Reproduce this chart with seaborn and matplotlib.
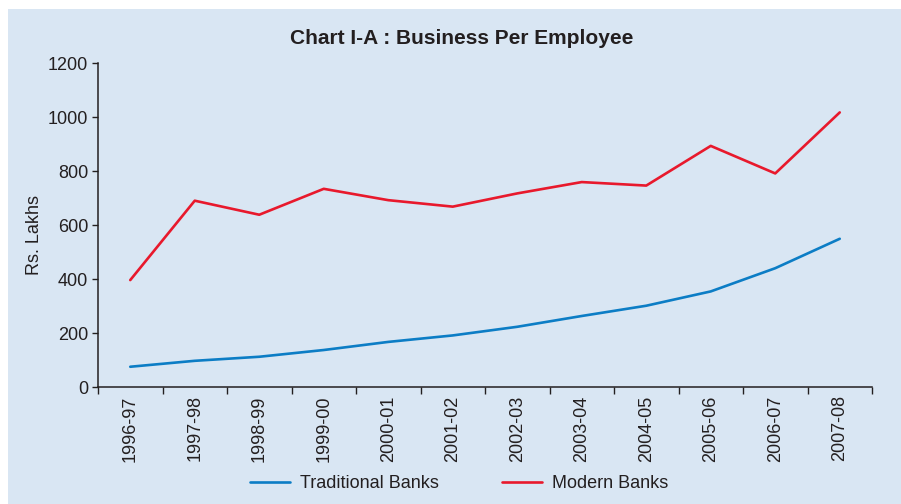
import matplotlib
matplotlib.use("Agg")
import matplotlib.pyplot as plt
from matplotlib.patches import Rectangle
from matplotlib.ticker import FixedLocator, NullFormatter
import seaborn as sns
import pandas as pd

years = ["1996-97", "1997-98", "1998-99", "1999-00", "2000-01", "2001-02",
         "2002-03", "2003-04", "2004-05", "2005-06", "2006-07", "2007-08"]
traditional = [75, 97, 112, 137, 167, 191, 223, 263, 301, 354, 440, 549]
modern = [396, 690, 638, 734, 692, 668, 717, 759, 746, 893, 791, 1017]
series_names = ["Traditional Banks", "Modern Banks"]
y_ticks = [0, 200, 400, 600, 800, 1000, 1200]

panel = "#D9E6F3"
blue = "#0C7DC5"
red = "#E8192C"
ink = "#231F20"

sns.set_theme(style="ticks")
plt.rcParams["font.family"] = ["Liberation Sans", "DejaVu Sans"]

df = pd.DataFrame({
    "pos": list(range(len(years))) * 2,
    "value": traditional + modern,
    "series": [series_names[0]] * len(years) + [series_names[1]] * len(years),
})

W, H = 901, 504
fig = plt.figure(figsize=(W / 100, H / 100), dpi=100, facecolor="white")
fig.add_artist(Rectangle((8 / W, 0), 1 - 8 / W, 1 - 9 / H,
                         transform=fig.transFigure, facecolor=panel,
                         edgecolor="none", zorder=-10))

ax = fig.add_axes([98 / W, (H - 387) / H, (872 - 98) / W, (387 - 63) / H])
ax.set_facecolor(panel)

sns.lineplot(data=df, x="pos", y="value", hue="series", hue_order=series_names,
             palette=[blue, red], linewidth=1.9, ax=ax, legend=False)

ax.set_xlim(-0.5, len(years) - 0.5)
ax.set_ylim(0, 1200)
ax.set_yticks(y_ticks)
ax.set_yticklabels([str(v) for v in y_ticks])

# boundary ticks between categories, labels centred under each point
ax.xaxis.set_major_locator(FixedLocator([i - 0.5 for i in range(len(years) + 1)]))
ax.xaxis.set_major_formatter(NullFormatter())
ax.xaxis.set_minor_locator(FixedLocator(list(range(len(years)))))
ax.set_xticklabels(years, minor=True, rotation=90)
ax.tick_params(axis="x", which="major", length=5, width=1, color=ink, direction="out")
ax.tick_params(axis="x", which="minor", length=0, pad=6, labelsize=13, labelcolor=ink)
ax.tick_params(axis="y", length=4, width=1, color=ink, direction="out",
               labelsize=13, labelcolor=ink, pad=3)

for side in ("top", "right"):
    ax.spines[side].set_visible(False)
for side in ("left", "bottom"):
    ax.spines[side].set_color(ink)
    ax.spines[side].set_linewidth(1.1)

ax.set_xlabel("")
ax.set_ylabel("Rs. Lakhs", fontsize=13, color=ink, va="center")
ax.yaxis.set_label_coords((35 - 98) / 774, (387 - 235) / 324)

fig.text(462 / W, 1 - 38 / H, "Chart I-A : Business Per Employee",
         ha="center", va="center", fontsize=15, fontweight="bold", color=ink)

handles = [plt.Line2D([], [], color=blue, linewidth=1.9),
           plt.Line2D([], [], color=red, linewidth=1.9)]
fig.legend(handles, series_names, loc="center", bbox_to_anchor=(459 / W, 1 - 484 / H),
           ncol=2, frameon=False, fontsize=13, handlelength=2.2,
           handletextpad=0.55, columnspacing=3.5, labelcolor=ink)

fig.savefig("out.png", dpi=100, facecolor="white")
